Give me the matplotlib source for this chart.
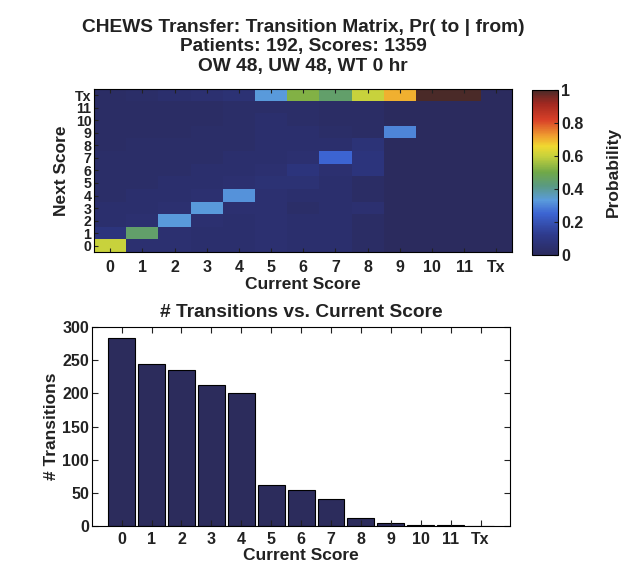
import numpy as np
import matplotlib.pyplot as plt
from matplotlib.colors import LinearSegmentedColormap

plt.rcParams['font.family'] = ['Liberation Sans', 'DejaVu Sans']
plt.rcParams['font.weight'] = 'bold'
plt.rcParams['text.color'] = '#222222'
plt.rcParams['axes.labelcolor'] = '#222222'
plt.rcParams['xtick.color'] = '#222222'
plt.rcParams['ytick.color'] = '#222222'

# score labels (current score on x, next score on y)
scores = ['0', '1', '2', '3', '4', '5', '6', '7', '8', '9', '10', '11', 'Tx']

# transition probabilities Pr(to | from); rows = next score 0..Tx, cols = current score 0..Tx
trans = [
    [0.60, 0.05, 0.05, 0.04, 0.04, 0.05, 0.04, 0.04, 0.02, 0.00, 0.00, 0.00, 0.00],
    [0.08, 0.45, 0.05, 0.04, 0.04, 0.05, 0.04, 0.04, 0.02, 0.00, 0.00, 0.00, 0.00],
    [0.04, 0.05, 0.33, 0.05, 0.04, 0.05, 0.04, 0.04, 0.02, 0.00, 0.00, 0.00, 0.00],
    [0.04, 0.04, 0.05, 0.33, 0.05, 0.05, 0.03, 0.04, 0.05, 0.00, 0.00, 0.00, 0.00],
    [0.03, 0.04, 0.04, 0.05, 0.32, 0.05, 0.04, 0.04, 0.02, 0.00, 0.00, 0.00, 0.00],
    [0.03, 0.03, 0.04, 0.04, 0.05, 0.06, 0.06, 0.04, 0.02, 0.00, 0.00, 0.00, 0.00],
    [0.03, 0.03, 0.03, 0.04, 0.04, 0.05, 0.08, 0.05, 0.08, 0.00, 0.00, 0.00, 0.00],
    [0.03, 0.03, 0.03, 0.03, 0.04, 0.04, 0.05, 0.25, 0.08, 0.00, 0.00, 0.00, 0.00],
    [0.02, 0.03, 0.03, 0.03, 0.03, 0.04, 0.04, 0.04, 0.07, 0.00, 0.00, 0.00, 0.00],
    [0.02, 0.02, 0.02, 0.03, 0.03, 0.04, 0.04, 0.03, 0.02, 0.30, 0.00, 0.00, 0.00],
    [0.02, 0.02, 0.02, 0.02, 0.03, 0.04, 0.03, 0.02, 0.02, 0.00, 0.00, 0.00, 0.00],
    [0.02, 0.02, 0.02, 0.02, 0.03, 0.03, 0.03, 0.02, 0.02, 0.00, 0.00, 0.00, 0.00],
    [0.02, 0.03, 0.04, 0.05, 0.06, 0.33, 0.52, 0.45, 0.60, 0.70, 1.00, 1.00, 0.00],
]

# number of transitions from each current score
counts = [283, 245, 236, 213, 200, 62, 55, 41, 12, 4, 1, 1, 0]

# washed-out jet, like the scanned figure
cmap = LinearSegmentedColormap.from_list('scanjet', [
    (0.00, '#2b2b5e'), (0.12, '#2e3a8c'), (0.25, '#3c64d2'),
    (0.33, '#5a9bdc'), (0.42, '#5a9a80'), (0.50, '#70a848'),
    (0.60, '#c8d23c'), (0.66, '#f0d830'), (0.72, '#f0a030'),
    (0.82, '#d84028'), (0.92, '#a02820'), (1.00, '#4a2a28')])

TICK = 11.5
LAB = 12.5
TTL = 13.8

fig = plt.figure(figsize=(6.24, 5.70), dpi=100)

# transition matrix
ax1 = fig.add_axes([0.151, 0.558, 0.670, 0.286])
im = ax1.imshow(np.array(trans), cmap=cmap, vmin=0, vmax=1,
                origin='lower', aspect='auto', interpolation='nearest')
ax1.set_xticks(range(len(scores)))
ax1.set_xticklabels(scores, fontsize=TICK, fontweight='bold')
ax1.set_yticks(range(len(scores)))
ax1.set_yticklabels(scores, fontsize=10.2, fontweight='bold')
ax1.tick_params(direction='in', length=3, top=True, right=False)
ax1.tick_params(axis='x', pad=6)
ax1.tick_params(axis='y', pad=2)
ax1.set_xlabel('Current Score', fontsize=LAB, fontweight='bold', labelpad=1)
ax1.set_ylabel('Next Score', fontsize=LAB, fontweight='bold', labelpad=4)
ax1.set_title('CHEWS Transfer: Transition Matrix, Pr( to | from)\n'
              'Patients: 192, Scores: 1359\nOW 48, UW 48, WT 0 hr',
              fontsize=TTL, fontweight='bold', pad=13, linespacing=1.2)

cax = fig.add_axes([0.853, 0.553, 0.042, 0.289])
cb = fig.colorbar(im, cax=cax, ticks=[0, 0.2, 0.4, 0.6, 0.8, 1])
cb.ax.set_yticklabels(['0', '0.2', '0.4', '0.6', '0.8', '1'], fontsize=TICK, fontweight='bold')
cb.ax.tick_params(direction='in', length=3, pad=2)
cb.set_label('Probability', fontsize=LAB, fontweight='bold', labelpad=16)

# transitions per current score
ax2 = fig.add_axes([0.147, 0.077, 0.671, 0.349])
x = np.arange(len(scores))
ax2.bar(x, counts, width=0.9, color='#2c2c5c', edgecolor='black', linewidth=0.8)
ax2.set_xlim(-1, 13)
ax2.set_ylim(0, 300)
ax2.set_xticks(x)
ax2.set_xticklabels(scores, fontsize=TICK, fontweight='bold')
ax2.set_yticks(range(0, 301, 50))
ax2.set_yticklabels([str(v) for v in range(0, 301, 50)], fontsize=TICK, fontweight='bold')
ax2.tick_params(direction='in', length=4, top=True, right=True)
ax2.tick_params(axis='x', pad=4)
ax2.tick_params(axis='y', pad=2)
ax2.set_xlabel('Current Score', fontsize=LAB, fontweight='bold', labelpad=1)
ax2.set_ylabel('# Transitions', fontsize=LAB, fontweight='bold', labelpad=2)
ax2.set_title('# Transitions vs. Current Score', fontsize=TTL, fontweight='bold', pad=7)

fig.savefig('out.png', dpi=100)
